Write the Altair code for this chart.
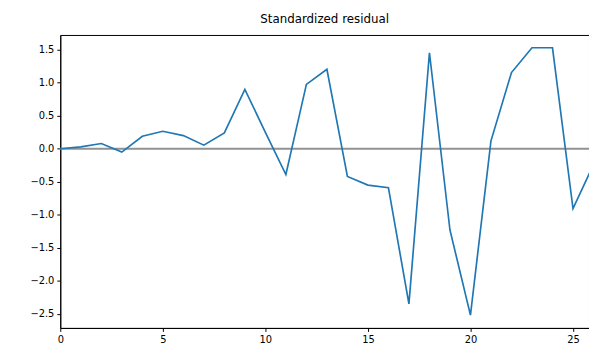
import altair as alt
import pandas as pd

x_vals = list(range(27))
resid = [0.0, 0.03, 0.08, -0.05, 0.19, 0.265, 0.20, 0.055, 0.24, 0.90,
         0.25, -0.39, 0.975, 1.205, -0.42, -0.55, -0.59, -2.35, 1.455, -1.23,
         -2.52, 0.12, 1.155, 1.53, 1.53, -0.905, -0.24]
x_ticks = [0, 5, 10, 15, 20, 25]
y_ticks = [-2.5, -2.0, -1.5, -1.0, -0.5, 0.0, 0.5, 1.0, 1.5]

df = pd.DataFrame({"x": x_vals, "y": resid})
zero = pd.DataFrame({"y": [0.0]})

FONT = "DejaVu Sans"

xscale = alt.Scale(domain=[0, 25.78], nice=False, zero=False)
yscale = alt.Scale(domain=[-2.714, 1.724], nice=False, zero=False)

axis_common = dict(title=None, grid=False, tickSize=3.5, labelPadding=3,
                   domainColor="#000", tickColor="#000", labelColor="#000",
                   labelFont=FONT, labelFontSize=10, domainWidth=1, tickWidth=1,
                   labelOverlap=False, labelFlush=False, labelBound=False)

y_axis = alt.Axis(values=y_ticks, format=".1f", **axis_common)
x_axis = alt.Axis(values=x_ticks, format="d", **axis_common)

rule = alt.Chart(zero).mark_rule(color="#929292", strokeWidth=2).encode(
    y=alt.Y("y:Q", scale=yscale, axis=y_axis)
)

line = alt.Chart(df).mark_line(color="#1f77b4", strokeWidth=1.7, clip=True).encode(
    x=alt.X("x:Q", scale=xscale, axis=x_axis),
    y=alt.Y("y:Q", scale=yscale, axis=y_axis),
)

chart = alt.layer(rule, line).properties(
    width=536,
    height=297,
    title=alt.TitleParams("Standardized residual", font=FONT, fontSize=12,
                          fontWeight="normal", color="#000", anchor="middle",
                          offset=4, baseline="bottom", dy=7),
    autosize=alt.AutoSizeParams(type="none"),
    padding={"left": 53, "top": 25, "right": 0, "bottom": 18},
).configure_view(stroke="#000", strokeWidth=1).configure_axis(labelOverlap=False)

chart.save("out.html", embed_options={"renderer": "svg", "actions": False})
